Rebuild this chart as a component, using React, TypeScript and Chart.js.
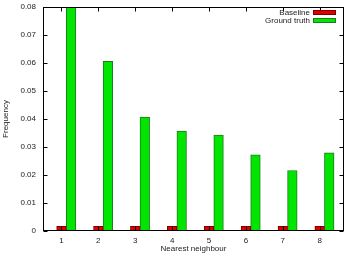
import React, { useEffect, useRef } from 'react';
import { Chart, registerables } from 'chart.js';

Chart.register(...registerables);

const categories = [1, 2, 3, 4, 5, 6, 7, 8];
const xTickLabels = ['1', '2', '3', '4', '5', '6', '7', '8'];
const baseline = [0.0017, 0.0017, 0.0017, 0.0017, 0.0017, 0.0017, 0.0017, 0.0017];
const groundTruth = [0.08, 0.0606, 0.0407, 0.0357, 0.0343, 0.0272, 0.0216, 0.0279];
const yTickValues = [0, 0.01, 0.02, 0.03, 0.04, 0.05, 0.06, 0.07, 0.08];
const seriesNames = ['Baseline', 'Ground truth'];

const X_MIN = 0.5;
const X_MAX = 8.66;
const BAR_SHIFT = 0.26;
const FONT = "'Liberation Sans', Arial, sans-serif";

const framePlugin = {
  id: 'gnuFrame',
  afterDraw(chart: any) {
    const { ctx, chartArea } = chart;
    const { left, right, top, bottom } = chartArea;
    const L = Math.round(left) + 0.5;
    const R = Math.round(right) - 0.5;
    const T = Math.round(top) + 0.5;
    const B = Math.round(bottom) - 0.5;
    ctx.save();
    ctx.strokeStyle = '#000';
    ctx.lineWidth = 1;
    ctx.strokeRect(L, T, R - L, B - T);
    const tl = 4;
    ctx.beginPath();
    const ys = chart.scales.y;
    ys.ticks.forEach((t: any) => {
      const py = Math.round(ys.getPixelForValue(t.value)) + 0.5;
      ctx.moveTo(L, py); ctx.lineTo(L + tl, py);
      ctx.moveTo(R, py); ctx.lineTo(R - tl, py);
    });
    const xs = chart.scales.x;
    xs.ticks.forEach((t: any) => {
      const px = Math.round(xs.getPixelForValue(t.value)) + 0.5;
      ctx.moveTo(px, B); ctx.lineTo(px, B - tl);
      ctx.moveTo(px, T); ctx.lineTo(px, T + tl);
    });
    ctx.stroke();

    // gnuplot-style legend: text then sample box, top-right
    ctx.font = `8px ${FONT}`;
    ctx.textAlign = 'right';
    ctx.textBaseline = 'middle';
    chart.data.datasets.forEach((ds: any, i: number) => {
      const cy = top + 6 + i * 8;
      ctx.fillStyle = '#222';
      ctx.fillText(ds.label, right - 34, cy);
      ctx.fillStyle = ds.backgroundColor;
      ctx.fillRect(right - 30.5, cy - 2.5, 22, 4);
      ctx.strokeStyle = ds.borderColor;
      ctx.strokeRect(right - 30.5, cy - 2.5, 22, 4);
    });
    ctx.restore();
  },
};

export default function App() {
  const ref = useRef<HTMLCanvasElement>(null);
  useEffect(() => {
    document.body.style.margin = '0';
    const canvas = ref.current;
    if (!canvas) return;
    const chart = new Chart(canvas, {
      type: 'bar',
      data: {
        datasets: [
          {
            label: seriesNames[0],
            data: categories.map((c, i) => ({ x: c, y: baseline[i] })),
            backgroundColor: '#e00000',
            borderColor: '#7a0000',
            borderWidth: 1,
            grouped: false,
            categoryPercentage: 1,
            barPercentage: 1,
          },
          {
            label: seriesNames[1],
            data: categories.map((c, i) => ({ x: c + BAR_SHIFT, y: groundTruth[i] })),
            backgroundColor: '#00e600',
            borderColor: '#1f7a1f',
            borderWidth: 1,
            grouped: false,
            categoryPercentage: 1,
            barPercentage: 1,
          },
        ],
      } as any,
      options: {
        responsive: false,
        animation: false,
        layout: { padding: { top: 7, right: 3, left: 0, bottom: 0 } },
        plugins: { legend: { display: false }, tooltip: { enabled: false } },
        scales: {
          x: {
            type: 'linear',
            min: X_MIN,
            max: X_MAX,
            offset: false,
            grid: { display: false, drawTicks: false },
            border: { display: false },
            afterBuildTicks: (s: any) => {
              s.ticks = categories.map((v) => ({ value: v }));
            },
            afterFit: (s: any) => {
              s.height = 23;
              s.paddingLeft = 0;
              s.paddingRight = 0;
            },
            ticks: {
              padding: 5,
              color: '#222',
              font: { family: FONT, size: 8 },
              maxRotation: 0,
              autoSkip: false,
              callback: (v: any) => xTickLabels[categories.indexOf(v)] ?? '',
            },
            title: {
              display: true,
              text: 'Nearest neighbour',
              color: '#222',
              font: { family: FONT, size: 8 },
              padding: { top: 0, bottom: 0 },
            },
          },
          y: {
            type: 'linear',
            min: 0,
            max: 0.08,
            grid: { display: false, drawTicks: false },
            border: { display: false },
            afterBuildTicks: (s: any) => {
              s.ticks = yTickValues.map((v) => ({ value: v }));
            },
            afterFit: (s: any) => {
              s.width = 43;
              s.paddingTop = 0;
              s.paddingBottom = 0;
            },
            ticks: {
              padding: 7,
              color: '#222',
              font: { family: FONT, size: 8 },
              callback: (v: any) => (v === 0 ? '0' : Number(v).toFixed(2)),
            },
            title: {
              display: true,
              text: 'Frequency',
              color: '#222',
              font: { family: FONT, size: 8 },
              padding: { top: 1, bottom: 0 },
            },
          },
        },
      } as any,
      plugins: [framePlugin],
    });
    return () => chart.destroy();
  }, []);
  return (
    <div style={{ width: 347, height: 254 }}>
      <canvas ref={ref} width={347} height={254} />
    </div>
  );
}
